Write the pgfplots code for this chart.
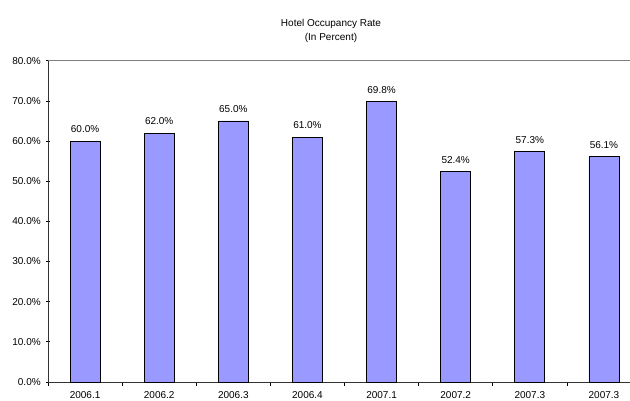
\documentclass[border=0pt]{standalone}
\usepackage{pgfplots}
\pgfplotsset{compat=1.18}
\usepackage{fontspec}
\setmainfont{Liberation Sans}
\definecolor{barblue}{HTML}{9999FF}
\begin{document}
\begin{tikzpicture}[font=\fontsize{10}{12}\selectfont]
\path[use as bounding box] (0pt,0pt) rectangle (630pt,400pt);
\begin{axis}[
  at={(48pt,18pt)}, anchor=south west,
  scale only axis, width=593pt, height=321.3pt,
  xmin=-0.5, xmax=7.5, ymin=0, ymax=80,
  /pgf/number format/assume math mode=true,
  ytick={0,10,...,80},
  yticklabel={\pgfmathprintnumber[fixed,fixed zerofill,precision=1]{\tick}\%},
  yticklabel style={xshift=-1.5pt},
  xtick={0,...,7},
  xticklabels={2006.1,2006.2,2006.3,2006.4,2007.1,2007.2,2007.3,2007.3},
  xticklabel style={yshift=-1pt},
  minor xtick={-0.5,0.5,...,7.5},
  major x tick style={draw=none},
  tick align=outside,
  major tick length=4.5pt,
  minor tick length=4pt,
  tick style={black, line width=0.7pt},
  axis x line=bottom, axis y line=left,
  axis line style={-, line width=1pt, black!80},
  ybar, bar width=0.405,
  nodes near coords={\pgfmathprintnumber[fixed,fixed zerofill,precision=1]{\pgfplotspointmeta}\%},
  nodes near coords style={font=\fontsize{10}{12}\selectfont, yshift=4.5pt},
  clip=false,
]
\addplot[fill=barblue, draw=black, line width=0.8pt] coordinates {
 (0,60.0) (1,62.0) (2,65.0) (3,61.0) (4,69.8) (5,52.4) (6,57.3) (7,56.1)};
\draw[gray, line width=0.8pt] (rel axis cs:0,1) -- (rel axis cs:1,1);
\end{axis}
\node[align=center, font=\fontsize{10}{14}\selectfont] at (331pt,369pt) {Hotel Occupancy Rate\\(In Percent)};
\end{tikzpicture}
\end{document}
